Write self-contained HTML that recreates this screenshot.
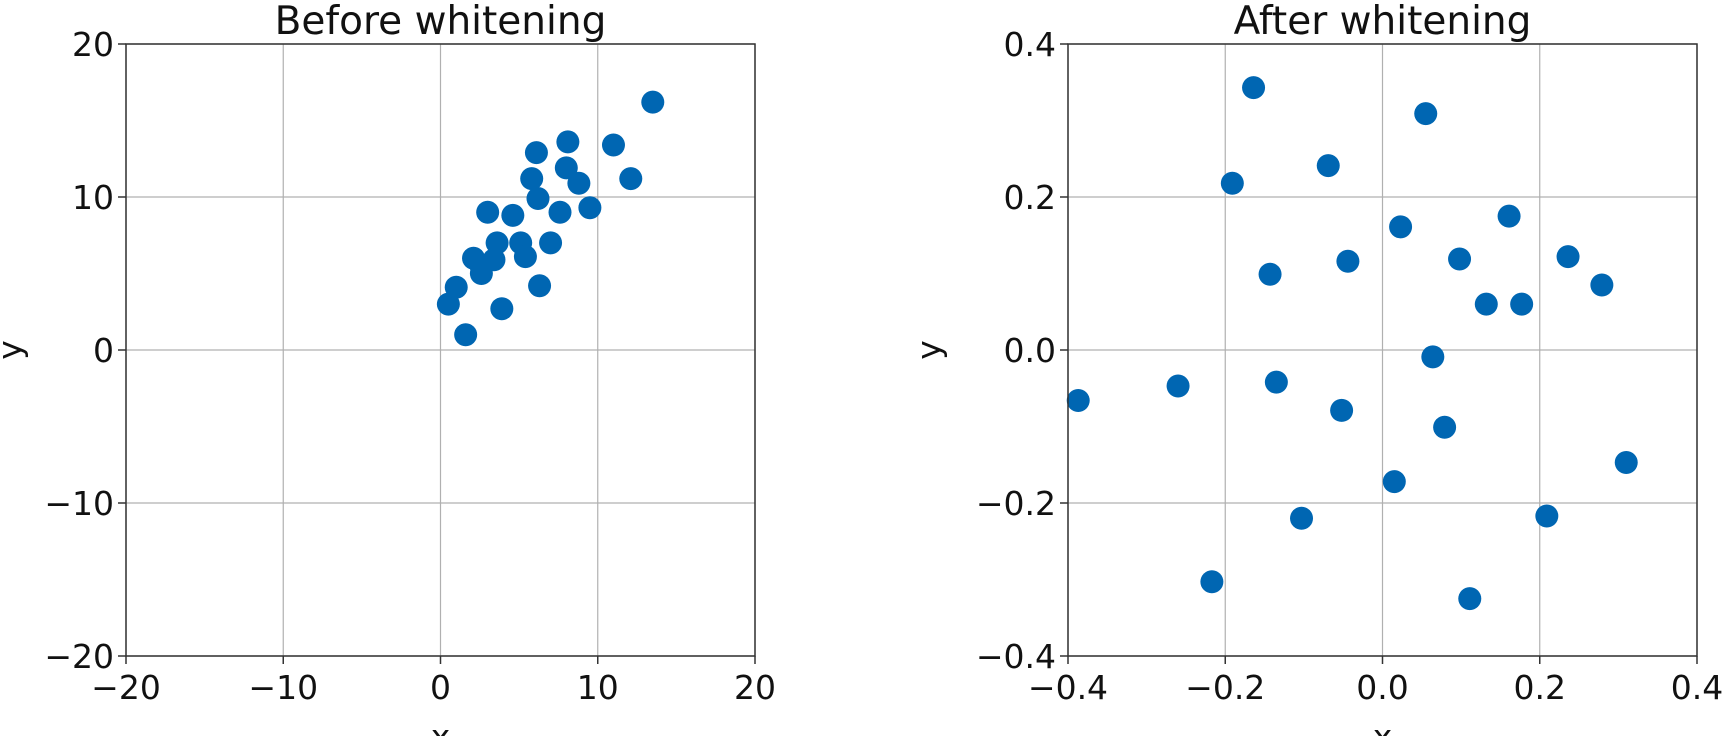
<!DOCTYPE html>
<html><head><meta charset="utf-8"><style>
html,body{margin:0;padding:0;background:#fff;}
svg{display:block;font-family:"DejaVu Sans","Liberation Sans",sans-serif;}
</style></head><body>
<svg id="chart" width="1725" height="736" viewBox="0 0 1725 736"></svg>
<script>
const beforeX=[0.5,1.0,1.6,2.1,2.6,2.6,3.0,3.4,3.6,3.9,4.6,5.1,5.4,5.8,6.1,6.2,6.3,7.0,7.6,8.0,8.1,8.8,9.5,11.0,12.1,13.5];
const beforeY=[3.0,4.1,1.0,6.0,5.0,5.4,9.0,5.9,7.0,2.7,8.8,7.0,6.1,11.2,12.9,9.9,4.2,7.0,9.0,11.9,13.6,10.9,9.3,13.4,11.2,16.2];
const afterX=[-0.387,-0.260,-0.217,-0.191,-0.164,-0.143,-0.135,-0.103,-0.069,-0.052,-0.044,0.015,0.023,0.055,0.064,0.079,0.098,0.111,0.132,0.161,0.177,0.209,0.236,0.279,0.310];
const afterY=[-0.066,-0.047,-0.303,0.218,0.343,0.099,-0.042,-0.220,0.241,-0.079,0.116,-0.172,0.161,0.309,-0.009,-0.101,0.119,-0.325,0.060,0.175,0.060,-0.217,0.122,0.085,-0.147];
const leftTicks=[-20,-10,0,10,20];
const leftTickLabels=["\u221220","\u221210","0","10","20"];
const rightTicks=[-0.4,-0.2,0,0.2,0.4];
const rightTickLabels=["\u22120.4","\u22120.2","0.0","0.2","0.4"];
const NS="http://www.w3.org/2000/svg";
const svg=document.getElementById('chart');
function mk(tag,attrs,parent){const e=document.createElementNS(NS,tag);for(const k in attrs)e.setAttribute(k,attrs[k]);(parent||svg).appendChild(e);return e;}
function panel(name,x0,x1,y0,y1,min,max,ticks,labels,xs,ys,title){
  const g=mk('g',{});
  
  
  const sx=v=>x0+(v-min)/(max-min)*(x1-x0);
  const sy=v=>y1-(v-min)/(max-min)*(y1-y0);
  ticks.forEach((t,i)=>{
    const gx=mk('line',{x1:sx(t),x2:sx(t),y1:y0,y2:y1,stroke:'#b0b0b0','stroke-width':1.2},g);
    
    
    const gy=mk('line',{x1:x0,x2:x1,y1:sy(t),y2:sy(t),stroke:'#b0b0b0','stroke-width':1.2},g);
    
    
    mk('line',{x1:sx(t),x2:sx(t),y1:y1,y2:y1+8,stroke:'#333','stroke-width':1.5},g);
    mk('line',{x1:x0-8,x2:x0,y1:sy(t),y2:sy(t),stroke:'#333','stroke-width':1.5},g);
    const xl=mk('text',{x:sx(t),y:y1+43,'text-anchor':'middle','font-size':33,fill:'#111'},g);
    xl.textContent=labels[i];
    
    
    const yl=mk('text',{x:x0-12,y:sy(t)+12,'text-anchor':'end','font-size':33,fill:'#111'},g);
    yl.textContent=labels[i];
    
    
  });
  xs.forEach((v,i)=>{
    const c=mk('circle',{cx:sx(v),cy:sy(ys[i]),r:11.5,fill:'#0066b2'},g);
    
    
  });
  const fr=mk('rect',{x:x0,y:y0,width:x1-x0,height:y1-y0,fill:'none',stroke:'#333','stroke-width':1.5},g);
  
  
  const tt=mk('text',{x:(x0+x1)/2,y:y0-10,'text-anchor':'middle','font-size':39,fill:'#111'},g);
  tt.textContent=title;
  
  
  const xt=mk('text',{x:(x0+x1)/2,y:y1+92,'text-anchor':'middle','font-size':33,fill:'#111'},g);
  xt.textContent='x';
  
  
  const yx=x0-(name==='left-panel'?105:128);
  const yt=mk('text',{x:yx,y:(y0+y1)/2,'text-anchor':'middle','font-size':33,fill:'#111',transform:`rotate(-90 ${yx} ${(y0+y1)/2})`},g);
  yt.textContent='y';
  
  
}
panel('left-panel',126,755,44,656,-20,20,leftTicks,leftTickLabels,beforeX,beforeY,'Before whitening');
panel('right-panel',1068,1697,44,656,-0.4,0.4,rightTicks,rightTickLabels,afterX,afterY,'After whitening');
</script>
</body></html>
